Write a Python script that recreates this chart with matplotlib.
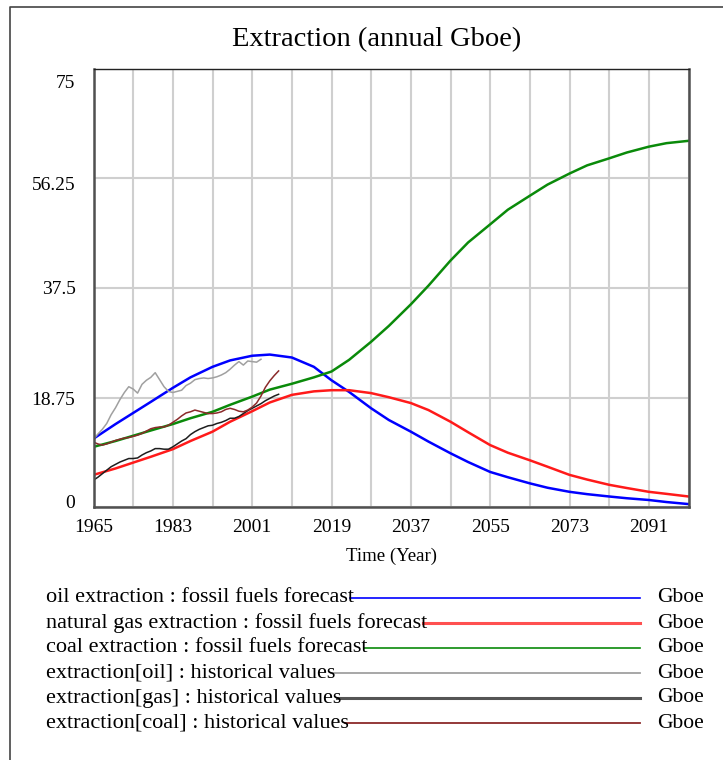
import matplotlib
matplotlib.use('Agg')
import matplotlib.pyplot as plt
from matplotlib.lines import Line2D
from matplotlib.transforms import ScaledTranslation

plt.rcParams['font.family'] = 'Liberation Serif'

# forecast series (Gboe per year)
forecast_years = [1965, 1970, 1974, 1978, 1983, 1987, 1992, 1996, 2001, 2005,
                  2010, 2015, 2019, 2023, 2028, 2032, 2037, 2041, 2046, 2050,
                  2055, 2059, 2064, 2068, 2073, 2077, 2082, 2086, 2091, 2095, 2100]
oil_forecast = [11.7, 14.2, 16.1, 18.0, 20.4, 22.2, 24.0, 25.1, 25.9, 26.1,
                25.6, 24.0, 21.7, 19.7, 16.9, 14.9, 12.9, 11.2, 9.2, 7.7,
                6.0, 5.1, 4.05, 3.3, 2.6, 2.2, 1.8, 1.5, 1.2, 0.85, 0.5]
gas_forecast = [5.5, 6.6, 7.6, 8.6, 9.9, 11.3, 12.9, 14.6, 16.4, 17.9,
                19.2, 19.8, 20.0, 20.0, 19.5, 18.8, 17.8, 16.6, 14.6, 12.8,
                10.6, 9.3, 8.0, 6.9, 5.5, 4.7, 3.8, 3.25, 2.6, 2.25, 1.8]
coal_forecast = [10.3, 11.3, 12.2, 13.1, 14.2, 15.2, 16.3, 17.5, 18.9, 20.1,
                 21.1, 22.2, 23.2, 25.2, 28.3, 31.0, 34.7, 37.9, 42.2, 45.3,
                 48.4, 50.9, 53.3, 55.2, 57.1, 58.5, 59.7, 60.7, 61.7, 62.3, 62.7]

# historical values
oil_hist_years = list(range(1965, 2004))
oil_hist = [11.6, 12.5, 13.3, 14.3, 15.8, 17.0, 18.4, 19.6, 20.6, 20.2,
            19.5, 21.0, 21.7, 22.2, 23.0, 21.8, 20.6, 19.8, 19.6, 19.8,
            20.0, 20.8, 21.2, 21.8, 22.0, 22.1, 22.0, 22.1, 22.3, 22.6,
            23.0, 23.6, 24.3, 24.9, 24.3, 25.0, 24.9, 24.8, 25.3]
gas_hist_years = list(range(1965, 2008))
gas_hist = [4.6, 5.1, 5.7, 6.3, 6.9, 7.3, 7.7, 8.0, 8.3, 8.3,
            8.4, 8.9, 9.3, 9.6, 10.0, 10.0, 9.9, 9.9, 10.3, 10.8,
            11.3, 11.7, 12.4, 12.9, 13.3, 13.6, 13.9, 14.0, 14.3, 14.5,
            14.8, 15.2, 15.2, 15.5, 16.0, 16.5, 16.9, 17.3, 17.7, 18.2,
            18.6, 19.0, 19.3]
coal_hist_years = list(range(1965, 2008))
coal_hist = [11.1, 10.8, 10.6, 10.8, 11.1, 11.4, 11.6, 11.8, 11.9, 12.1,
             12.3, 12.6, 13.0, 13.4, 13.6, 13.7, 13.7, 14.0, 14.5, 15.0,
             15.6, 16.1, 16.3, 16.6, 16.4, 16.2, 16.0, 16.0, 16.1, 16.3,
             16.7, 16.9, 16.7, 16.4, 16.3, 16.6, 17.1, 17.8, 19.0, 20.5,
             21.6, 22.5, 23.3]

y_ticks = [0, 18.75, 37.5, 56.25, 75]
y_labels = ['0', '18.75', '37.5', '56.25', '75']
x_grid = list(range(1965, 2101, 9))

W, H = 723, 760
fig = plt.figure(figsize=(W / 100, H / 100), dpi=100)
ax = fig.add_axes([93.5 / W, 1 - 507 / H, 595 / W, 438 / H])

ax.plot(forecast_years, oil_forecast, color='#0000ff', lw=1.8)
ax.plot(forecast_years, gas_forecast, color='#ff1a1a', lw=1.8)
ax.plot(forecast_years, coal_forecast, color='#0a8a0a', lw=1.8)
ax.plot(oil_hist_years, oil_hist, color='#a0a0a0', lw=1.1)
ax.plot(gas_hist_years, gas_hist, color='#1e1e1e', lw=1.1)
ax.plot(coal_hist_years, coal_hist, color='#8b2a2a', lw=1.1)

ax.set_xlim(1965, 2100)
ax.set_ylim(0, 75)
ax.set_xticks(x_grid)
ax.set_xticklabels([str(y) if (y - 1965) % 18 == 0 else '' for y in x_grid])
ax.set_yticks(y_ticks)
ax.set_yticklabels(y_labels)
ax.tick_params(length=0, labelsize=14)
ax.tick_params(axis='x', pad=9)
ax.tick_params(axis='y', pad=13)
# nudge the y labels like the original (end labels pulled inside)
y_shift_px = [6, -1, 0, -5, -13]
for lab, dy in zip(ax.get_yticklabels(), y_shift_px):
    lab.set_transform(lab.get_transform() + ScaledTranslation(0, dy / 100, fig.dpi_scale_trans))
ax.grid(True, color='#cfcfcf', lw=1.5)
ax.set_axisbelow(True)

for s in ['left', 'bottom', 'right']:
    ax.spines[s].set_color('#505050')
    ax.spines[s].set_linewidth(1.8)
ax.spines['top'].set_color('#222222')
ax.spines['top'].set_linewidth(1.0)

ax.set_xlabel('Time (Year)', fontsize=13.5, labelpad=8)
fig.text(377 / W, 1 - 40 / H, 'Extraction (annual Gboe)', fontsize=20.5,
         ha='center', va='center')

# outer frame (left and top edges)
fig.add_artist(Line2D([9.5 / W, 9.5 / W, 1], [0, 1 - 7 / H, 1 - 7 / H],
                      transform=fig.transFigure, color='#444444', lw=1.2))

# legend
legend_rows = [
    ('oil extraction : fossil fuels forecast', '#0000ff', 1.2),
    ('natural gas extraction : fossil fuels forecast', '#ff5050', 2.2),
    ('coal extraction : fossil fuels forecast', '#0a8a0a', 1.2),
    ('extraction[oil] : historical values', '#a0a0a0', 1.3),
    ('extraction[gas] : historical values', '#555555', 2.2),
    ('extraction[coal] : historical values', '#8b2a2a', 1.3),
]
fig.canvas.draw()
renderer = fig.canvas.get_renderer()
for i, (name, col, lw) in enumerate(legend_rows):
    yp = 598 + i * 25
    t = fig.text(46 / W, 1 - yp / H, name, fontsize=16, ha='left', va='center')
    x_end = t.get_window_extent(renderer).x1
    fig.add_artist(Line2D([(x_end - 4) / W, 640 / W], [1 - yp / H, 1 - yp / H],
                          transform=fig.transFigure, color=col, lw=lw))
    fig.text(657 / W, 1 - yp / H, 'Gboe', fontsize=15.5, ha='left', va='center')

fig.savefig('out.png', dpi=100)
